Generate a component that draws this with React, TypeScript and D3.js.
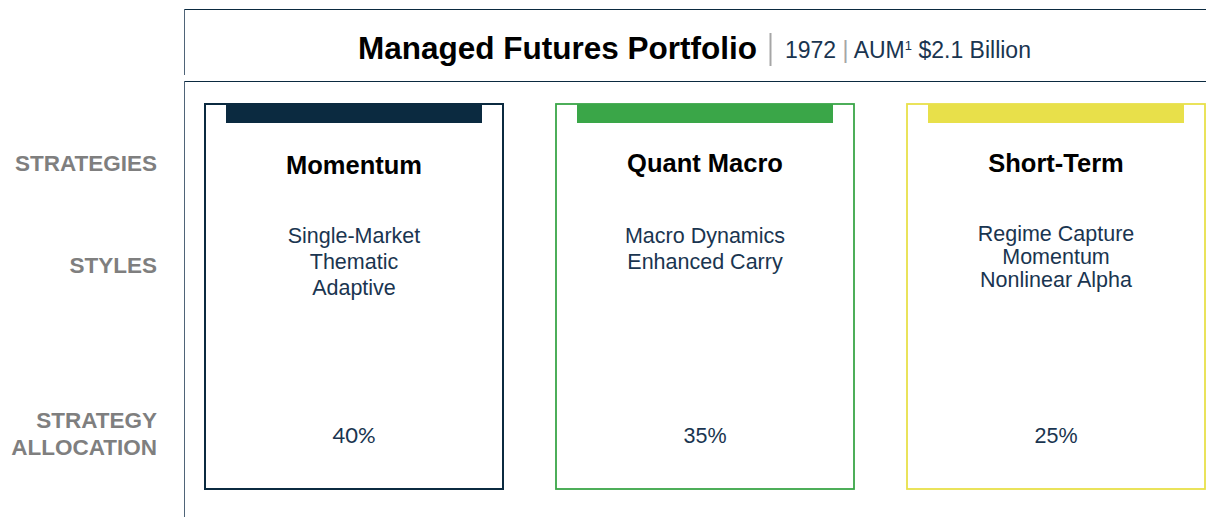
import React from 'react';
import * as d3 from 'd3';

const strategies = ['Momentum', 'Quant Macro', 'Short-Term'];
const styles = [
  ['Single-Market', 'Thematic', 'Adaptive'],
  ['Macro Dynamics', 'Enhanced Carry'],
  ['Regime Capture', 'Momentum', 'Nonlinear Alpha'],
];
const allocations = [40, 35, 25];
const colors = ['#0b2a40', '#3aa648', '#e8e04a'];
const rowLabels = [['STRATEGIES'], ['STYLES'], ['STRATEGY', 'ALLOCATION']];

const W = 1206;
const H = 517;
const ARIAL = '"Liberation Sans", Arial, sans-serif';
const NAVY = '#0b2a40';

const App = () => {
  const x = d3.scaleBand<string>()
    .domain(strategies)
    .range([205, 1205])
    .paddingInner(0.151)
    .paddingOuter(0);

  const boxTop = 104;
  const boxBottom = 489;
  const rowY = [174, 243, 443]; // baselines for heading, styles, allocation
  const labelY = [171, 273, 428];
  const lineGap = [26, 26, 23];

  return (
    <svg
      width={W}
      height={H}
      style={{ position: 'absolute', left: 0, top: 0, background: '#fff' }}
    >
      {/* header frame */}
      <line x1={184} x2={W} y1={9.5} y2={9.5} stroke={NAVY} strokeWidth={1} />
      <line x1={184.5} x2={184.5} y1={9} y2={75} stroke="#4f6478" strokeWidth={1} />
      <line x1={184} x2={W} y1={81.5} y2={81.5} stroke={NAVY} strokeWidth={1} />
      <line x1={184.5} x2={184.5} y1={81} y2={H} stroke="#4f6478" strokeWidth={1} />

      {/* title */}
      <text x={757} y={59} textAnchor="end" fontFamily={ARIAL} fontWeight="bold" fontSize={31.5} fill="#000">
        Managed Futures Portfolio
      </text>
      <line x1={770.5} x2={770.5} y1={33} y2={66} stroke="#a6a6a6" strokeWidth={2} />
      <text x={785} y={58} fontFamily={ARIAL} fontSize={23} fill="#1a3550">
        1972
        <tspan fill="#a6a6a6"> | </tspan>
        AUM
        <tspan fontSize={13} dy={-8}>1</tspan>
        <tspan dy={8}> $2.1 Billion</tspan>
      </text>

      {/* row labels */}
      {rowLabels.map((lines, i) => (
        <text key={i} textAnchor="end" fontFamily={ARIAL} fontWeight="bold" fontSize={22.5} fill="#7f7f7f">
          {lines.map((l, j) => (
            <tspan key={j} x={157} y={labelY[i] + j * 27}>{l}</tspan>
          ))}
        </text>
      ))}

      {/* strategy boxes */}
      {strategies.map((s, i) => {
        const bx = x(s) as number;
        const bw = x.bandwidth();
        const cx = bx + bw / 2;
        const sw = i === 0 ? 2 : 1.8;
        return (
          <g key={s}>
            <rect
              x={bx}
              y={boxTop}
              width={bw}
              height={boxBottom - boxTop}
              fill="#fff"
              stroke={colors[i]}
              strokeWidth={sw}
            />
            <rect x={bx + 21} y={boxTop} width={bw - 42} height={19} fill={colors[i]} />
            <text x={cx} y={rowY[0] - (i === 0 ? 0 : 2)} textAnchor="middle" fontFamily={ARIAL} fontWeight="bold" fontSize={25.5} fill="#000">
              {s}
            </text>
            <text textAnchor="middle" fontFamily={ARIAL} fontSize={21.5} fill="#1a3550">
              {styles[i].map((l, j) => (
                <tspan key={j} x={cx} y={rowY[1] - (i === 2 ? 2 : 0) + j * lineGap[i]}>{l}</tspan>
              ))}
            </text>
            <text
              x={cx}
              y={rowY[2]}
              textAnchor="middle"
              fontFamily={i === 0 ? 'Lato, sans-serif' : ARIAL}
              fontSize={i === 0 ? 22 : 21.5}
              fill="#1a3550"
            >
              {allocations[i]}%
            </text>
          </g>
        );
      })}
    </svg>
  );
};

export default App;
